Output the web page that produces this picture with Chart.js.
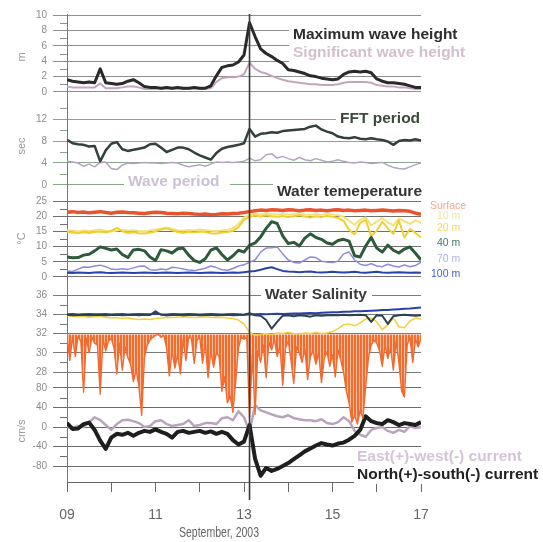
<!DOCTYPE html>
<html><head><meta charset="utf-8">
<script src="https://cdn.jsdelivr.net/npm/chart.js@4.4.1/dist/chart.umd.min.js"></script>
<style>html,body{margin:0;padding:0;background:#fff;}canvas{display:block;}</style>
</head><body>
<canvas id="c" width="543" height="542"></canvas>
<script>
// ---- time axis (hours since 09 Sep 2003 00:00) ----
const HOURS = [0,3,6,9,12,15,18,21,24,27,30,33,36,39,42,45,48,51,54,57,60,63,66,69,72,75,78,81,84,87,90,93,96,99,102,105,108,111,114,117,120,123,126,129,132,135,138,141,144,147,150,153,156,159,162,165,168,171,174,177,180,183,186,189,192];
const HOURS_FINE = [0,1.5,3,4.5,6,7.5,9,10.5,12,13.5,15,16.5,18,19.5,21,22.5,
24,25.5,27,28.5,30,31.5,33,34.5,36,37.5,39,40.5,42,43.5,45,46.5,
48,49.5,51,52.5,54,55.5,57,58.5,60,61.5,63,64.5,66,67.5,69,70.5,
72,73.5,75,76.5,78,79.5,81,82.5,84,85.5,87,88.5,90,91.5,93,94.5,
96,97.5,99,100.5,102,103.5,105,106.5,108,109.5,111,112.5,114,115.5,117,118.5,
120,121.5,123,124.5,126,127.5,129,130.5,132,133.5,135,136.5,138,139.5,141,142.5,
144,145.5,147,148.5,150,151.5,153,154.5,156,157.5,159,160.5,162,163.5,165,166.5,
168,169.5,171,172.5,174,175.5,177,178.5,180,181.5,183,184.5,186,187.5,189,190.5,
192];
const X_TICK_HOURS = [0,24,48,72,96,120,144,168,192];
const X_TICK_LABELS = ['09','','11','','13','','15','','17'];
const EVENT_HOUR = 99;

// ---- wave height (m) ----
const MAX_WAVE_HEIGHT = [1.6,1.4,1.3,1.2,1.3,1.2,3.0,1.2,1.1,1.0,
 1.1,1.4,1.6,1.2,0.7,0.6,0.6,0.5,0.6,0.5,
 0.6,0.5,0.5,0.6,0.5,0.5,0.8,2.1,3.2,3.4,
 3.5,3.9,4.8,9.0,7.2,5.6,5.0,4.6,4.1,3.7,
 2.9,2.8,2.6,2.4,2.1,2.0,1.8,1.7,1.6,1.7,
 2.3,2.6,2.7,2.6,2.7,2.5,1.7,1.4,1.2,1.2,
 1.1,1.0,0.8,0.6,0.6];
const SIG_WAVE_HEIGHT = [0.7,0.6,0.6,0.6,0.6,0.6,1.1,0.5,0.5,0.5,
 0.6,0.7,0.7,0.6,0.4,0.4,0.4,0.4,0.4,0.4,
 0.4,0.4,0.4,0.4,0.4,0.4,0.5,1.3,1.8,1.9,
 1.9,2.0,2.3,3.8,3.0,2.6,2.4,2.1,1.8,1.6,
 1.4,1.3,1.2,1.1,1.0,1.0,0.9,0.9,0.9,1.0,
 1.2,1.3,1.3,1.3,1.3,1.2,0.9,0.8,0.7,0.7,
 0.6,0.6,0.5,0.4,0.4];

// ---- periods (sec) ----
const FFT_PERIOD = [8.2,7.6,7.4,7.3,7.0,7.1,4.3,6.3,7.5,7.8,
 6.5,6.2,6.4,6.6,6.8,7.4,7.5,6.8,6.0,6.4,
 6.8,6.8,6.5,5.9,5.4,5.0,4.6,5.8,6.6,6.9,
 7.1,7.3,7.6,10.2,8.8,9.3,9.4,9.6,9.5,9.8,
 9.9,10.0,10.1,10.2,10.6,10.8,10.1,9.7,9.4,8.8,
 8.6,8.5,8.7,8.4,8.3,8.5,8.3,8.2,7.9,7.3,
 8.0,8.2,8.1,8.3,8.1];
const WAVE_PERIOD = [4.3,4.2,4.0,3.4,3.8,3.3,4.1,4.2,3.0,2.8,
 3.6,4.0,3.9,4.0,4.1,4.0,4.0,3.9,4.0,4.1,
 4.0,3.6,3.3,3.5,3.7,3.4,3.8,4.2,4.1,4.2,
 4.1,4.2,4.3,4.9,4.4,4.6,5.5,5.7,4.9,5.2,
 4.8,4.5,5.0,4.6,4.4,4.8,4.5,4.2,4.3,4.6,
 4.3,4.1,4.0,4.2,4.1,3.9,4.0,4.1,3.6,3.2,
 3.0,2.9,3.3,3.7,4.0];

// ---- water temperature (°C) ----
const TEMP_SURFACE = [21.3,21.5,21.2,21.4,21.1,21.3,21.5,21.2,21.0,21.3,
 21.4,21.2,21.1,21.0,20.9,21.1,21.3,21.2,21.0,20.9,
 20.8,21.0,20.9,20.7,20.6,20.7,20.5,20.6,20.8,20.7,
 20.9,21.0,21.2,21.5,21.8,22.0,21.9,22.1,22.0,21.9,
 22.1,22.0,21.8,22.0,22.1,21.9,22.0,21.8,22.0,22.1,
 21.9,22.0,21.8,21.9,22.0,21.8,21.9,22.0,21.9,21.7,
 21.9,21.8,21.6,21.0,20.6];
const TEMP_10M = [15.4,15.2,15.0,15.3,15.1,15.4,15.6,15.2,15.0,15.3,
 15.5,15.2,15.4,15.1,15.0,15.3,15.6,15.9,16.2,15.8,
 15.4,15.2,15.5,15.3,15.6,15.4,15.2,15.1,15.3,15.5,
 16.0,17.5,19.5,20.5,20.8,20.6,20.9,20.7,20.6,20.8,
 20.5,20.7,20.9,20.6,20.4,20.7,20.5,20.8,20.6,20.3,
 19.8,18.5,17.2,18.8,19.6,17.0,18.2,19.4,18.0,17.0,
 19.2,18.4,17.5,18.6,17.8];
const TEMP_20M = [14.8,14.6,14.4,14.7,14.5,14.8,15.0,14.6,15.2,16.2,
 15.0,14.5,14.7,14.4,14.3,14.6,15.0,15.6,16.0,15.4,
 14.8,14.5,14.9,14.6,15.0,14.8,14.4,14.3,14.6,14.8,
 15.2,16.4,18.8,19.8,20.2,19.9,20.3,20.0,19.8,20.1,
 19.7,20.0,20.3,19.9,19.6,20.0,19.7,20.1,19.8,19.4,
 18.5,15.5,14.0,17.8,18.8,13.5,15.2,18.2,16.0,14.2,
 18.6,13.0,15.8,14.5,13.0];
const TEMP_40M = [6.6,6.3,6.4,7.2,7.5,8.6,9.9,9.4,8.9,9.2,
 7.4,6.4,8.9,9.1,8.6,6.6,5.4,9.0,8.6,7.9,
 9.3,9.5,7.2,5.4,4.8,6.0,8.8,9.6,7.4,5.6,
 7.0,8.8,8.2,10.4,11.2,13.2,16.0,18.2,17.6,13.5,
 11.0,11.4,10.2,12.8,14.2,13.0,12.4,11.2,10.8,12.0,
 12.4,11.8,7.0,6.6,10.2,13.0,9.5,8.2,10.5,8.8,
 7.9,9.2,9.9,7.8,5.6];
const TEMP_70M = [2.0,1.8,2.6,3.3,3.2,3.6,3.9,3.4,2.6,2.5,
 2.7,2.5,3.0,3.5,3.6,2.4,2.2,2.6,2.4,3.2,
 3.0,2.6,2.3,2.1,2.5,2.9,3.6,3.1,2.4,2.2,
 2.8,3.6,4.0,4.9,5.6,8.2,9.5,9.6,9.9,7.6,
 5.6,4.8,4.6,5.6,6.6,6.4,5.2,4.9,4.8,5.2,
 7.6,8.2,5.6,4.2,3.8,4.4,3.6,3.4,4.2,3.6,
 3.3,4.0,3.4,3.8,4.8];
const TEMP_100M = [1.4,1.3,1.5,1.4,1.3,1.5,1.6,1.4,1.3,1.4,
 1.5,1.4,1.3,1.4,1.5,1.4,1.3,1.4,1.5,1.4,
 1.3,1.4,1.5,1.4,1.3,1.4,1.5,1.4,1.3,1.4,
 1.5,1.4,1.6,1.8,2.0,2.4,2.9,3.2,2.6,2.0,
 1.8,1.7,1.6,1.7,1.8,1.6,1.5,1.6,1.7,1.6,
 1.5,1.6,1.7,1.5,1.4,1.6,1.7,1.5,1.4,1.5,
 1.6,1.5,1.4,1.5,1.4];

// ---- water salinity ----
const SAL_DEEP = [34.0,34.02,33.98,34.0,34.03,33.99,34.0,34.02,33.97,34.0,
 34.03,33.98,34.0,34.02,34.01,33.99,34.05,34.0,33.98,34.02,
 34.0,33.99,34.03,34.0,33.98,34.01,34.02,34.0,33.98,34.0,
 34.02,33.99,33.95,33.98,34.0,34.02,34.0,34.03,34.05,34.03,
 34.06,34.08,34.07,34.1,34.12,34.11,34.15,34.18,34.2,34.22,
 34.25,34.27,34.3,34.32,34.35,34.37,34.4,34.43,34.45,34.5,
 34.53,34.57,34.6,34.65,34.7];
const SAL_40M = [33.95,33.9,33.93,33.95,33.9,33.92,33.96,33.9,33.93,33.95,
 33.9,33.92,33.94,33.9,33.95,33.92,34.3,33.95,33.9,33.93,
 33.95,33.9,33.92,33.94,33.9,33.93,33.95,33.9,33.92,33.94,
 33.9,33.92,33.95,34.1,33.9,33.85,33.4,32.5,33.2,33.85,
 33.9,33.8,33.9,33.85,33.75,33.9,33.85,33.9,33.92,33.9,
 33.95,33.9,33.92,33.95,33.9,33.2,33.9,33.85,33.0,33.8,
 33.9,33.95,33.9,33.85,33.9];
const SAL_MID = [33.85,33.8,33.75,33.8,33.7,33.75,33.8,33.7,33.6,33.65,
 33.55,33.6,33.5,33.45,33.5,33.45,33.55,33.6,33.7,33.65,
 33.7,33.75,33.7,33.65,33.7,33.75,33.7,33.65,33.7,33.6,
 33.55,33.4,33.0,32.1,31.8,31.9,32.0,31.9,32.05,32.0,
 32.1,32.0,31.95,32.05,32.0,32.1,32.0,32.05,32.2,32.5,
 32.9,33.0,32.8,33.1,33.5,33.6,33.2,32.4,32.9,33.6,
 32.7,32.6,33.3,33.6,33.5];
const SAL_SURFACE = [31.8,29.2,31.6,29.6,31.7,31.2,25.9,31.5,30.0,31.6,31.0,30.8,25.7,31.4,30.2,31.2,
 31.5,30.5,27.8,31.0,28.2,30.6,29.5,28.8,27.0,28.2,26.5,23.5,29.5,30.8,31.3,31.6,
 31.8,31.9,31.6,31.8,30.5,27.6,30.2,28.4,29.8,27.8,31.4,29.2,31.6,31.5,28.9,31.3,
 31.6,28.9,31.0,27.4,30.2,28.5,30.0,29.6,26.0,27.5,24.8,25.5,23.8,27.0,30.5,31.6,
 31.4,31.6,23.3,29.8,23.6,30.2,29.0,30.8,27.4,31.1,30.3,31.4,29.6,30.8,26.6,30.5,
 31.2,29.2,26.8,30.6,30.0,29.0,30.4,27.2,29.6,30.2,28.8,30.0,26.9,29.4,30.1,28.6,
 29.8,27.5,30.3,29.2,28.0,26.0,24.8,22.8,23.5,22.6,24.0,23.2,26.5,29.5,30.8,31.3,
 31.0,30.2,28.6,30.8,29.4,30.5,28.2,31.2,29.0,26.0,25.4,30.8,31.6,29.0,31.4,30.6,31.5];
const SAL_SURFACE_TOP = 31.9;

// ---- currents (cm/s) ----
const CUR_NS = [8,-4,-3,6,9,-6,-28,-45,-22,-14,
 -16,-12,-18,-12,-8,-10,-5,-10,-14,-22,
 -10,-8,-12,-10,-8,-12,-9,-14,-10,-14,
 -27,-36,-30,4,-65,-100,-84,-90,-86,-80,
 -74,-66,-58,-50,-44,-38,-33,-36,-38,-34,
 -32,-26,-18,-6,22,12,8,6,14,10,
 4,8,6,4,10];
const CUR_EW = [0,-2,2,0,10,20,14,4,-6,6,
 14,15,12,8,0,2,12,14,6,2,
 4,6,14,2,4,8,8,6,18,20,
 14,32,20,-10,45,34,30,26,22,20,
 24,18,16,14,14,12,16,8,6,10,
 20,12,-8,-16,-20,-6,-2,0,-8,-12,
 -6,-10,2,-2,0];

// ---- y-axis tick labels ----
const WAVE_TICKS = [0,2,4,6,8,10];
const PERIOD_TICKS = [0,4,8,12];
const TEMP_TICKS = [0,5,10,15,20,25];
const SAL_TICKS = [28,30,32,34,36];
const CUR_TICKS = [-80,-40,0,40,80];

// ---- panel layout (styles/positions) ----
const PANELS = [
 {id:'yWave',   h:86,  min:-1.039, max:10.13,  major:WAVE_TICKS,   minor:[1,3,5,7,9],            title:'m',    grid:'#8e8e8e', w:5},
 {id:'yPeriod', h:92,  min:-1.273, max:15.455, major:PERIOD_TICKS, minor:[2,6,10,14],            title:'sec',  grid:'#8aa68a', w:4},
 {id:'yTemp',   h:93,  min:-2.632, max:27.961, major:TEMP_TICKS,   minor:[2.5,7.5,12.5,17.5,22.5], title:'\u00B0C', grid:'#707070', w:3},
 {id:'ySal',    h:95,  min:27.169, max:37.039, major:SAL_TICKS,    minor:[29,31,33,35],          title:'',     grid:'#7a7a7a', w:2},
 {id:'yCur',    h:102, min:-112.82,max:96.41,  major:CUR_TICKS,    minor:[-60,-20,20,60],        title:'cm/s', grid:'#6a6a6a', w:1}
];

const FONT = "'Liberation Sans', Arial, sans-serif";
Chart.defaults.font.family = FONT;

const TEXTS = [
 {text:'Maximum wave height', x:293, y:35, color:'#2d2d2d', bold:true, size:15.5},
 {text:'Significant wave height', x:293, y:52.5, color:'#d4bfcc', bold:true, size:15.5},
 {text:'FFT period', x:340, y:119, color:'#3b4a3d', bold:true, size:15.5},
 {text:'Wave period', x:128, y:182, color:'#cdc0d6', bold:true, size:15.5},
 {text:'Water temeperature', x:277, y:191.5, color:'#333333', bold:true, size:15.5},
 {text:'Surface', x:430, y:206, color:'#f5a88e', bold:false, size:10.5},
 {text:'10 m', x:437, y:216, color:'#f2e89a', bold:false, size:10.5},
 {text:'20 m', x:437, y:228, color:'#efdb5a', bold:false, size:10.5},
 {text:'40 m', x:437, y:243, color:'#3f7c69', bold:false, size:10.5},
 {text:'70 m', x:437, y:259, color:'#b0b2e4', bold:false, size:10.5},
 {text:'100 m', x:431, y:274, color:'#4060c8', bold:false, size:10.5},
 {text:'Water Salinity', x:265, y:295, color:'#3a3a3a', bold:true, size:15.5},
 {text:'East(+)-west(-) current', x:357, y:457, color:'#d3c5d5', bold:true, size:15.5},
 {text:'North(+)-south(-) current', x:357, y:475, color:'#222222', bold:true, size:15.5},
 {text:'September, 2003', x:179, y:533, color:'#666666', bold:false, size:14, w:80}
];
const MASKS = [
 {x:289, y:24, w:180, h:40},
 {x:336, y:112, w:90, h:14},
 {x:124, y:176, w:106, h:13},
 {x:273, y:184, w:152, h:15},
 {x:261, y:288, w:111, h:14},
 {x:354, y:450, w:70, h:34}
];

// streaky orange texture for the dense surface-salinity trace
function streakPattern() {
  const c = document.createElement('canvas'); c.width = 3; c.height = 4;
  const g = c.getContext('2d');
  g.fillStyle = '#fbc0a0'; g.fillRect(0, 0, 3, 4);
  g.fillStyle = '#f36c30'; g.fillRect(0, 0, 2, 4);
  return g.createPattern(c, 'repeat');
}

const pts = (ts, vs) => ts.map((t, i) => ({x: t, y: vs[i]}));
function line(label, axis, ts, vs, color, width, extra) {
  return Object.assign({label, yAxisID: axis, xAxisID: 'x', data: pts(ts, vs), borderColor: color,
    borderWidth: width, pointRadius: 0, fill: false, tension: 0, borderJoinStyle: 'round'}, extra || {});
}

const datasets = [
 line('Maximum wave height', 'yWave', HOURS, MAX_WAVE_HEIGHT, '#2a2a2a', 3),
 line('Significant wave height', 'yWave', HOURS, SIG_WAVE_HEIGHT, '#c3a6bc', 2),
 line('FFT period', 'yPeriod', HOURS, FFT_PERIOD, '#34403a', 2.5),
 line('Wave period', 'yPeriod', HOURS, WAVE_PERIOD, '#b6a3c4', 1.5),
 line('Surface', 'yTemp', HOURS, TEMP_SURFACE, '#e8532c', 3.5),
 line('40 m', 'yTemp', HOURS, TEMP_40M, '#2e5a3c', 3),
 line('100 m', 'yTemp', HOURS, TEMP_100M, '#2844a8', 2),
 line('70 m', 'yTemp', HOURS, TEMP_70M, '#8c8cd8', 1.5),
 line('20 m', 'yTemp', HOURS, TEMP_20M, '#efd030', 2),
 line('10 m', 'yTemp', HOURS, TEMP_10M, '#f3e27a', 2),
 line('Salinity 40 m', 'ySal', HOURS, SAL_40M, '#2b4250', 2),
 line('Salinity deep', 'ySal', HOURS, SAL_DEEP, '#2840a8', 2),
 line('Salinity mid', 'ySal', HOURS, SAL_MID, '#f0d040', 1.5),
 line('Salinity surface', 'ySal', HOURS_FINE, SAL_SURFACE, '#f26a30', 1.4,
   {fill: {value: SAL_SURFACE_TOP}, backgroundColor: streakPattern(),
    clip: {left: 0, right: 0, top: 0, bottom: 60}}),
 line('North(+)-south(-) current', 'yCur', HOURS, CUR_NS, '#1e1e1e', 4),
 line('East(+)-west(-) current', 'yCur', HOURS, CUR_EW, '#b9a3bd', 2.5)
];

const scales = {
  x: {type:'linear', position:'bottom', min:0, max:192,
    afterBuildTicks: s => { s.ticks = X_TICK_HOURS.map(v => ({value: v})); },
    afterFit: s => { s.height = 60; },
    ticks: {autoSkip:false, maxRotation:0, padding:15, color:'#666', font:{size:14},
      callback: (v, i) => X_TICK_LABELS[i]},
    grid: {drawOnChartArea:false, tickLength:10, color:'#666'},
    border: {display:true, color:'#666'}
  }
};
PANELS.forEach(p => {
  scales[p.id] = {
    type:'linear', position:'left', stack:'panels', stackWeight:p.h, weight:p.w,
    min:p.min, max:p.max,
    afterBuildTicks: s => { s.ticks = p.major.map(v => ({value: v})); },
    afterFit: s => { s.width = 67; },
    ticks: {autoSkip:false, padding:6, color:'#8c8c8c', font:{size:10}, callback: v => String(v)},
    grid: {color:p.grid, lineWidth:1, tickLength:14, tickColor:p.grid},
    border: {display:true, color:'#777', width:1},
    title: {display: !!p.title, text:p.title, color:'#9a9a9a', font:{size:11}, padding:{top:15, bottom:0}}
  };
});

const decor = {
  id: 'decor',
  beforeDatasetsDraw(chart) {
    const ctx = chart.ctx; ctx.save(); ctx.fillStyle = '#fff';
    MASKS.forEach(b => ctx.fillRect(b.x, b.y, b.w, b.h));
    ctx.restore();
  },
  afterDatasetsDraw(chart) {
    const ctx = chart.ctx, a = chart.chartArea, xs = chart.scales.x;
    ctx.save();
    const px = xs.getPixelForValue(EVENT_HOUR);
    ctx.strokeStyle = '#3a3a3a'; ctx.lineWidth = 1.6;
    ctx.beginPath(); ctx.moveTo(px, a.top); ctx.lineTo(px, a.bottom + 18); ctx.stroke();
    ctx.lineWidth = 1;
    PANELS.forEach(p => {
      const s = chart.scales[p.id]; ctx.strokeStyle = p.grid;
      p.minor.forEach(v => {
        const y = Math.round(s.getPixelForValue(v)) + 0.5;
        ctx.beginPath(); ctx.moveTo(s.right - 7, y); ctx.lineTo(s.right, y); ctx.stroke();
      });
    });
    ctx.textBaseline = 'middle'; ctx.textAlign = 'left';
    TEXTS.forEach(t => {
      ctx.font = (t.bold ? 'bold ' : '') + t.size + 'px ' + FONT;
      ctx.fillStyle = t.color;
      if (t.w) ctx.fillText(t.text, t.x, t.y, t.w); else ctx.fillText(t.text, t.x, t.y);
    });
    ctx.restore();
  }
};

new Chart(document.getElementById('c'), {
  type: 'line',
  data: {datasets},
  options: {
    responsive: false, animation: false, events: [],
    layout: {padding: {top:14, right:122, bottom:0, left:0}},
    plugins: {legend:{display:false}, tooltip:{enabled:false}, filler:{propagate:false}},
    scales
  },
  plugins: [decor]
});
</script>
</body></html>
